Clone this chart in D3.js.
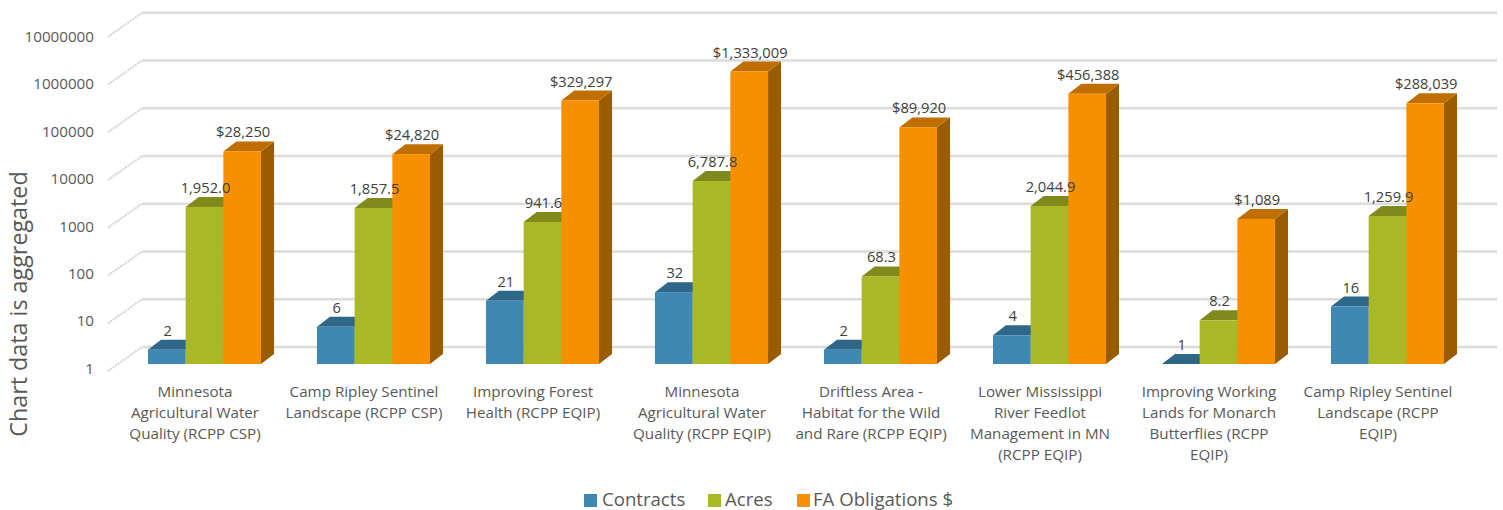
<!DOCTYPE html>
<html><head><meta charset="utf-8">
<script src="https://cdn.jsdelivr.net/npm/d3@7"></script>
<style>html,body{margin:0;padding:0;background:#fff}svg{display:block}text{font-family:"Open Sans","Noto Sans",sans-serif}</style>
</head><body><svg id="c" width="1503" height="510"></svg>
<script>
const categories = [
 ["Minnesota","Agricultural Water","Quality (RCPP CSP)"],
 ["Camp Ripley Sentinel","Landscape (RCPP CSP)"],
 ["Improving Forest","Health (RCPP EQIP)"],
 ["Minnesota","Agricultural Water","Quality (RCPP EQIP)"],
 ["Driftless Area -","Habitat for the Wild","and Rare (RCPP EQIP)"],
 ["Lower Mississippi","River Feedlot","Management in MN","(RCPP EQIP)"],
 ["Improving Working","Lands for Monarch","Butterflies (RCPP","EQIP)"],
 ["Camp Ripley Sentinel","Landscape (RCPP","EQIP)"]
];
const contracts = [2,6,21,32,2,4,1,16];
const acres = [1952.0,1857.5,941.6,6787.8,68.3,2044.9,8.2,1259.9];
const obligations = [28250,24820,329297,1333009,89920,456388,1089,288039];
const seriesNames = ["Contracts","Acres","FA Obligations $"];
const tickValues = [1,10,100,1000,10000,100000,1000000,10000000];
const colors = [
 {front:"#3f88b3",top:"#2e6788",side:"#2a5f80"},
 {front:"#a9b826",top:"#7e8a1c",side:"#76811a"},
 {front:"#f79000",top:"#bf6f00",side:"#9a5c00"}
];
const fmt = [d3.format(","), d3.format(",.1f"), d=>"$"+d3.format(",")(d)];
const series = [contracts,acres,obligations];

const svg = d3.select("#c");
const baseY=364, stepY=47.75, dx=13, dy=-10;
const y = d3.scaleLog().domain([1,1e7]).range([baseY,baseY-7*stepY]);
const x0 = d3.scaleBand().domain(d3.range(categories.length)).range([120,1472]).paddingInner(0.331).paddingOuter(0.1655);
const x1 = d3.scaleBand().domain(d3.range(3)).range([0,x0.bandwidth()]);

// back wall gridlines + side wall diagonals
const backY = v => y(v)-17, frontY = v => y(v)+7;
const grid = svg.append("g");
grid.selectAll("line.b").data(tickValues).join("line").attr("class","b")
  .attr("x1",142).attr("x2",1497).attr("y1",backY).attr("y2",backY)
  .attr("stroke","#dcdcdc").attr("stroke-width",2.4);
grid.selectAll("line.d").data(tickValues).join("line").attr("class","d")
  .attr("x1",108).attr("x2",142).attr("y1",frontY).attr("y2",backY)
  .attr("stroke","#d4d4d4").attr("stroke-width",2).attr("stroke-dasharray","2 1");

// value axis
const yAxisScale = d3.scaleLog().domain([1,1e7]).range([baseY+4,baseY+4-7*47.4]);
const ax = svg.append("g").attr("transform","translate(94,0)")
  .call(d3.axisLeft(yAxisScale).tickValues(tickValues).tickFormat(d3.format("d")).tickSize(0).tickPadding(0));
ax.select(".domain").remove();
ax.selectAll("text").attr("fill","#595959").style("font-size","15.2px").style("font-family",'"Open Sans"').attr("dy","0.35em");

// bars
const groups = svg.append("g").selectAll("g").data(categories).join("g")
  .attr("transform",(d,i)=>`translate(${x0(i)},0)`);
groups.each(function(_,i){
  const g=d3.select(this);
  series.forEach((s,k)=>{
    const v=s[i], l=x1(k), r=l+x1.bandwidth(), t=y(v), b=baseY, c=colors[k];
    const p=a=>a.map(q=>q.join(",")).join(" ");
    g.append("polygon").attr("fill",c.side).attr("points",p([[r,t],[r+dx,t+dy],[r+dx,b+dy],[r,b]]));
    g.append("polygon").attr("fill",c.top).attr("points",p([[l,t],[l+dx,t+dy],[r+dx,t+dy],[r,t]]));
    if(b-t>0) g.append("rect").attr("x",l).attr("y",t).attr("width",r-l).attr("height",b-t).attr("fill",c.front);
  });
});
// data labels on top
groups.each(function(_,i){
  const g=d3.select(this);
  series.forEach((s,k)=>{
    g.append("text").attr("x",x1(k)+x1.bandwidth()/2+1).attr("y",y(s[i])-14)
      .attr("text-anchor","middle").attr("fill","#404040").style("font-size","14.7px").text(fmt[k](s[i]));
  });
});

// category labels
svg.append("g").selectAll("text").data(categories).join("text")
  .attr("text-anchor","middle").attr("fill","#595959").style("font-size","15.2px")
  .attr("transform",(d,i)=>`translate(${x0(i)+x0.bandwidth()/2-9.5},397)`)
  .each(function(d){
    d3.select(this).selectAll("tspan").data(d).join("tspan").attr("x",0).attr("y",(q,j)=>j*21).text(q=>q);
  });

// axis title
svg.append("text").attr("transform","translate(27,304) rotate(-90)").attr("text-anchor","middle")
  .attr("fill","#595959").style("font-size","23.3px").text("Chart data is aggregated");

// legend
const legX=[584,708,797], txtX=[602,725,813];
const leg=svg.append("g").selectAll("g").data(seriesNames).join("g");
leg.append("rect").attr("x",(d,i)=>legX[i]).attr("y",494).attr("width",13).attr("height",13).attr("fill",(d,i)=>colors[i].front);
leg.append("text").attr("x",(d,i)=>txtX[i]).attr("y",506).attr("fill","#595959").style("font-size","18.6px").text(d=>d);
</script></body></html>
